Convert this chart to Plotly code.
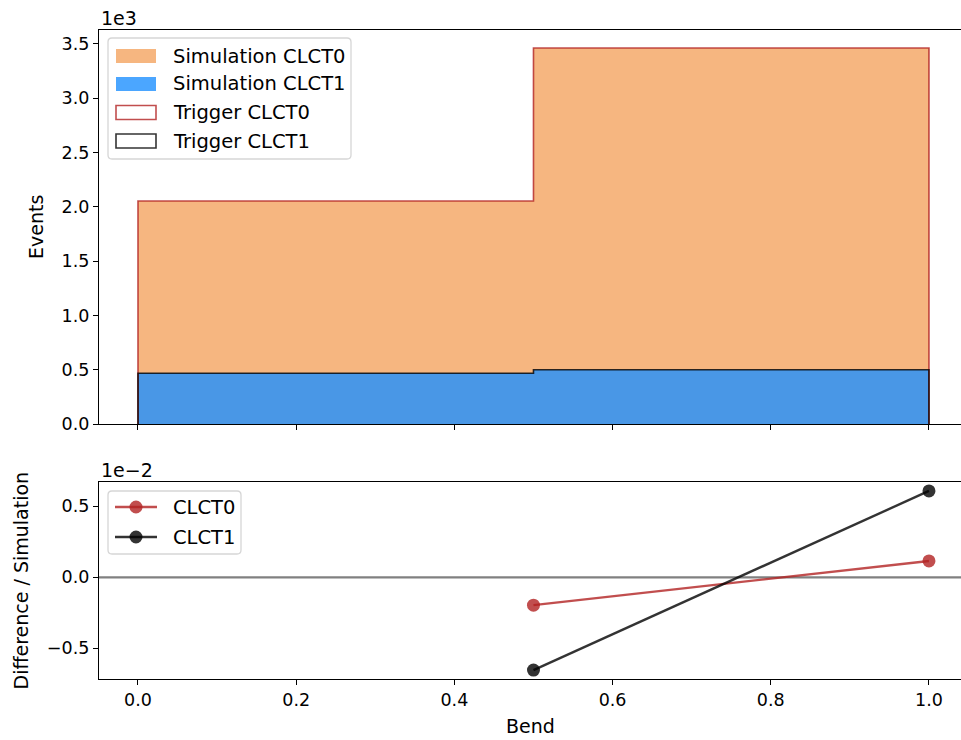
import plotly.graph_objects as go
from plotly.subplots import make_subplots

# ---- data ----
bin_edges = [0.0, 0.5, 1.0]
sim_clct0 = [2053, 3462]
sim_clct1 = [468, 500]
trig_clct0 = [2053, 3462]
trig_clct1 = [468, 500]
ratio_x = [0.5, 1.0]
ratio_clct0 = [-0.196, 0.115]   # units of 1e-2
ratio_clct1 = [-0.653, 0.608]   # units of 1e-2
yscale_top = 1e3
top_names = ["Simulation CLCT0", "Simulation CLCT1", "Trigger CLCT0", "Trigger CLCT1"]
bot_names = ["CLCT0", "CLCT1"]


def step_poly(edges, vals, scale):
    xs, ys = [edges[0]], [0]
    for i, v in enumerate(vals):
        xs += [edges[i], edges[i + 1]]
        ys += [v / scale, v / scale]
    xs.append(edges[-1]); ys.append(0)
    return xs, ys


FONT = "DejaVu Sans"
orange = "rgba(244,164,96,0.8)"
blue = "rgba(30,144,255,0.8)"
red = "rgba(178,34,34,0.8)"
black = "rgba(0,0,0,0.8)"

W, H = 961, 740
L, R, T, B = 99, 0, 30, 740 - 679
pw, ph = W - L - R, H - T - B


def px(xp):   # pixel -> paper x
    return (xp - L) / pw


def py(yp):   # pixel -> paper y
    return (H - B - yp) / ph


top_dom = [py(424), 1.0]
bot_dom = [0.0, py(482)]

fig = make_subplots(rows=2, cols=1)

for vals, c, n in zip([sim_clct0, sim_clct1], [orange, blue], top_names[:2]):
    x, y = step_poly(bin_edges, vals, yscale_top)
    fig.add_trace(go.Scatter(x=x, y=y, fill="toself", fillcolor=c, mode="lines",
                             line=dict(width=0, color=c), name=n, showlegend=False,
                             hoverinfo="skip"), row=1, col=1)
for vals, c, n in zip([trig_clct0, trig_clct1], [red, black], top_names[2:]):
    x, y = step_poly(bin_edges, vals, yscale_top)
    fig.add_trace(go.Scatter(x=x, y=y, mode="lines", line=dict(width=1.6, color=c),
                             name=n, showlegend=False), row=1, col=1)

xr = [-0.0493, 1.0405]
fig.add_trace(go.Scatter(x=xr, y=[0, 0], mode="lines", line=dict(color="#808080", width=2.2),
                         showlegend=False, hoverinfo="skip"), row=2, col=1)
for vals, c, n in zip([ratio_clct0, ratio_clct1], [red, black], bot_names):
    fig.add_trace(go.Scatter(x=ratio_x, y=vals, mode="lines+markers", name=n,
                             line=dict(color=c, width=2.4), marker=dict(size=13, color=c),
                             showlegend=False), row=2, col=1)

axis_common = dict(showline=True, linecolor="black", linewidth=1.3, ticks="outside",
                   ticklen=5, tickwidth=1.3, tickcolor="black", showgrid=False,
                   zeroline=False, tickfont=dict(family=FONT, size=17.5, color="black"))

fig.update_xaxes(**axis_common, range=xr, mirror=True, tickvals=[0, 0.2, 0.4, 0.6, 0.8, 1.0],
                 domain=[0, 1])
fig.update_xaxes(showticklabels=False, row=1, col=1)
fig.update_xaxes(tickformat=".1f", row=2, col=1)
fig.update_yaxes(**axis_common, mirror=False)
fig.update_yaxes(domain=top_dom, range=[0, 3.628], tickvals=[0, 0.5, 1, 1.5, 2, 2.5, 3, 3.5],
                 tickformat=".1f", row=1, col=1)
fig.update_yaxes(domain=bot_dom, range=[-0.716, 0.671], tickvals=[-0.5, 0, 0.5],
                 tickformat=".1f", row=2, col=1)

lab = dict(family=FONT, size=19, color="black")
legfont = dict(family=FONT, size=19.5, color="black")

shapes = []
annotations = []


def rounded_box(x0, y0, x1, y1, r=4):
    rx, ry = r / pw, r / ph
    X0, X1, Y0, Y1 = px(x0), px(x1), py(y1), py(y0)  # Y0 bottom, Y1 top
    return (f"M{X0+rx},{Y1} L{X1-rx},{Y1} Q{X1},{Y1} {X1},{Y1-ry} "
            f"L{X1},{Y0+ry} Q{X1},{Y0} {X1-rx},{Y0} L{X0+rx},{Y0} "
            f"Q{X0},{Y0} {X0},{Y0+ry} L{X0},{Y1-ry} Q{X0},{Y1} {X0+rx},{Y1} Z")


# top legend box
shapes.append(dict(type="path", xref="paper", yref="paper", path=rounded_box(108, 38, 351, 159),
                   fillcolor="rgba(255,255,255,0.8)", line=dict(color="#d6d6d6", width=1.3)))
rows_top = [56, 84, 112.5, 141]
patch_fill = [orange, blue, "white", "white"]
patch_line = [None, None, red, black]
for yc, fc, lc, name in zip(rows_top, patch_fill, patch_line, top_names):
    shapes.append(dict(type="rect", xref="paper", yref="paper", x0=px(116), x1=px(156),
                       y0=py(yc + 7), y1=py(yc - 7), fillcolor=fc,
                       line=dict(color=lc if lc else "rgba(0,0,0,0)", width=1.6 if lc else 0)))
    annotations.append(dict(text=name, xref="paper", yref="paper", x=px(171), y=py(yc),
                            xanchor="left", yanchor="middle", showarrow=False, font=legfont))

# bottom legend box
shapes.append(dict(type="path", xref="paper", yref="paper", path=rounded_box(108, 491, 241, 554),
                   fillcolor="rgba(255,255,255,0.8)", line=dict(color="#d6d6d6", width=1.3)))
rows_bot = [507, 537]
for yc, c, name in zip(rows_bot, [red, black], bot_names):
    shapes.append(dict(type="line", xref="paper", yref="paper", x0=px(115), x1=px(157),
                       y0=py(yc), y1=py(yc), line=dict(color=c, width=2.4)))
    shapes.append(dict(type="circle", xref="paper", yref="paper", x0=px(136 - 6.5),
                       x1=px(136 + 6.5), y0=py(yc + 6.5), y1=py(yc - 6.5), fillcolor=c,
                       line=dict(width=0)))
    annotations.append(dict(text=name, xref="paper", yref="paper", x=px(171), y=py(yc),
                            xanchor="left", yanchor="middle", showarrow=False, font=legfont))

annotations += [
    dict(text="1e3", xref="paper", yref="paper", x=0, y=1, xanchor="left",
         yanchor="bottom", showarrow=False, font=lab, yshift=-1),
    dict(text="1e\u22122", xref="paper", yref="paper", x=0, y=bot_dom[1], xanchor="left",
         yanchor="bottom", showarrow=False, font=lab, yshift=-1),
    dict(text="Events", xref="paper", yref="paper", x=px(36),
         y=(top_dom[0] + top_dom[1]) / 2, textangle=-90, showarrow=False, font=lab,
         xanchor="center", yanchor="middle"),
    dict(text="Difference / Simulation", xref="paper", yref="paper", x=px(20),
         y=(bot_dom[0] + bot_dom[1]) / 2, textangle=-90, showarrow=False, font=lab,
         xanchor="center", yanchor="middle"),
    dict(text="Bend", xref="x2", yref="paper", x=(xr[0] + xr[1]) / 2, y=py(726),
         showarrow=False, font=lab, xanchor="center", yanchor="middle"),
]

fig.update_layout(
    width=W, height=H, margin=dict(l=L, r=R, t=T, b=B),
    paper_bgcolor="white", plot_bgcolor="white", font=lab, showlegend=False,
    shapes=shapes, annotations=annotations,
)

fig.write_html("out.html", config={"displayModeBar": False},
               post_script="document.body.style.margin='0';document.body.style.overflow='hidden';")
